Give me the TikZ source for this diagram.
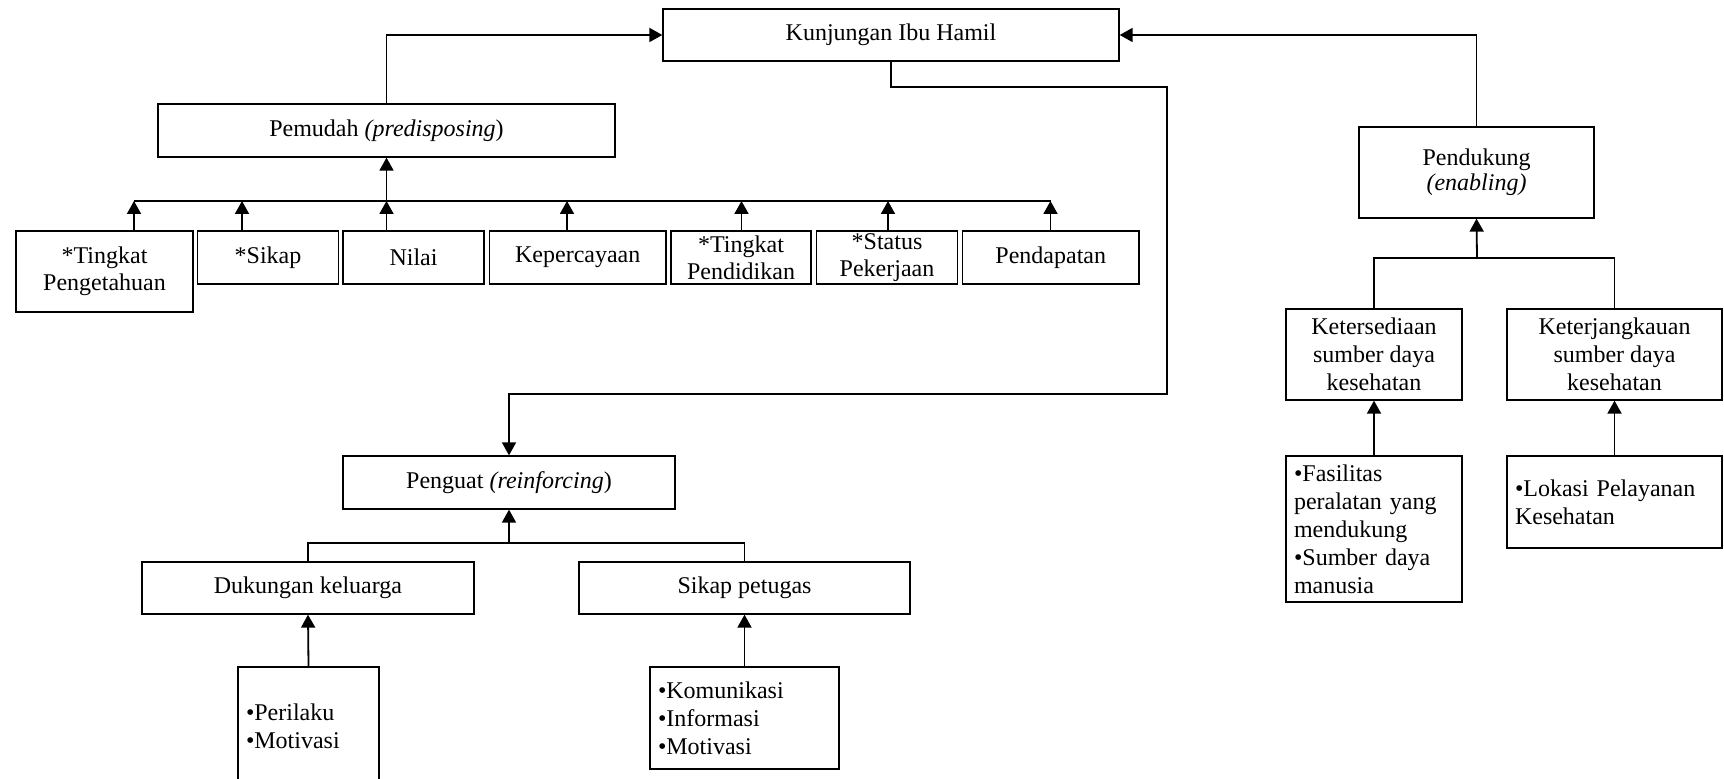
\documentclass[tikz,border=0pt]{standalone}
\usepackage{fontspec}
\setmainfont{Liberation Serif}
\usepackage{tikz}
\usetikzlibrary{arrows.meta,positioning,calc}

\begin{document}
\begin{tikzpicture}[
  x=0.5pt, y=-0.5pt,
  font=\fontsize{12}{13.5}\selectfont,
  box/.style={draw, line width=0.65pt, rectangle, inner sep=0pt, align=center},
  list/.style={draw, line width=0.65pt, rectangle, inner xsep=4pt, inner ysep=0pt, align=left, font=\fontsize{12}{14}\selectfont},
  line/.style={draw, line width=0.9pt},
  arr/.style={draw, line width=0.9pt, -{Triangle[length=6.5pt,width=7pt]}}
]
  \useasboundingbox (0,0) rectangle (1724,779);

  % top
  \node[box, minimum width=228pt, minimum height=26pt] (kunjungan) at (891,35) {Kunjungan Ibu Hamil};

  % pemudah
  \node[box, minimum width=228.5pt, minimum height=26.5pt] (pemudah) at (386.5,130.5) {Pemudah \textit{(predisposing})};
  \node[box, minimum width=88.5pt, minimum height=40.5pt] (pengetahuan) at (104.5,271.5) {*Tingkat\\Pengetahuan};
  \node[box, minimum width=70.25pt, minimum height=26.5pt] (sikap) at (268,257.5) {*Sikap};
  \node[box, minimum width=70.5pt, minimum height=26.5pt] (nilai) at (413.5,257.5) {Nilai};
  \node[box, minimum width=88.25pt, minimum height=26.5pt] (kepercayaan) at (577.75,257.5) {Kepercayaan};
  \node[box, minimum width=70pt, minimum height=26.5pt] (pendidikan) at (741,257.5) {*Tingkat\\Pendidikan};
  \node[box, minimum width=70.5pt, minimum height=26.5pt] (pekerjaan) at (887,257.5) {*Status\\Pekerjaan};
  \node[box, minimum width=88.25pt, minimum height=26.5pt] (pendapatan) at (1050.75,257.5) {Pendapatan};

  % penguat
  \node[box, minimum width=166pt, minimum height=26.5pt] (penguat) at (509,482.5) {Penguat \textit{(reinforcing})};
  \node[box, minimum width=166pt, minimum height=26pt] (dukungan) at (308,588) {Dukungan keluarga};
  \node[box, minimum width=165.5pt, minimum height=26pt] (petugas) at (744.5,588) {Sikap petugas};
  \node[list, text width=62.5pt, minimum height=59pt] (perilaku) at (308.5,726) {\textbullet Perilaku\\\textbullet Motivasi};
  \node[list, text width=86.5pt, minimum height=51pt] (komunikasi) at (744.5,718) {\textbullet Komunikasi\\\textbullet Informasi\\\textbullet Motivasi};

  % pendukung
  \node[box, minimum width=117.5pt, minimum height=45.5pt, font=\fontsize{12}{12.5}\selectfont] (pendukung) at (1476.5,172.5) {Pendukung\\\textit{(enabling)}};
  \node[box, minimum width=88pt, minimum height=45.5pt, font=\fontsize{12}{14}\selectfont] (ketersediaan) at (1374,354.5) {Ketersediaan\\sumber daya\\kesehatan};
  \node[box, minimum width=107.5pt, minimum height=45.5pt, font=\fontsize{12}{14}\selectfont] (keterjangkauan) at (1614.5,354.5) {Keterjangkauan\\sumber daya\\kesehatan};
  \node[list, text width=80pt, minimum height=73pt] (fasilitas) at (1374,529) {\textbullet Fasilitas\\peralatan yang\\mendukung\\\textbullet Sumber daya\\manusia};
  \node[list, text width=99.5pt, minimum height=46pt] (lokasi) at (1614.5,502) {\textbullet Lokasi Pelayanan\\Kesehatan};

  % connectors
  \draw[arr] (pemudah.north) |- (kunjungan.west);
  \draw[arr] (pendukung.north) |- (kunjungan.east);

  \coordinate (turnA) at (1167,87);
  \coordinate (turnB) at (1167,394);
  \draw[arr] (kunjungan.south) |- (turnA) -- (turnB) -| (penguat.north);

  \foreach \n/\x in {pengetahuan/134, sikap/242, nilai/386.5, kepercayaan/567, pendidikan/741.5, pekerjaan/888, pendapatan/1050.5}{
    \coordinate (top-\n) at (\x,201);
    \draw[arr] (top-\n |- \n.north) -- (top-\n);
  }
  \draw[line] (top-pengetahuan) -- (top-pendapatan);
  \draw[arr] (top-nilai) -- (top-nilai |- pemudah.south);

  \coordinate (qbus) at (509,543);
  \draw[line] (dukungan.north) |- (qbus) -| (petugas.north);
  \draw[arr] (qbus) -- (penguat.south);
  \draw[arr] (perilaku.north) -- (dukungan.south);
  \draw[arr] (komunikasi.north) -- (petugas.south);

  \coordinate (rbus) at (1477,258);
  \draw[line] (ketersediaan.north) |- (rbus) -| (keterjangkauan.north);
  \draw[arr] (rbus) -- (pendukung.south);
  \draw[arr] (fasilitas.north) -- (ketersediaan.south);
  \draw[arr] (lokasi.north) -- (keterjangkauan.south);
\end{tikzpicture}
\end{document}
